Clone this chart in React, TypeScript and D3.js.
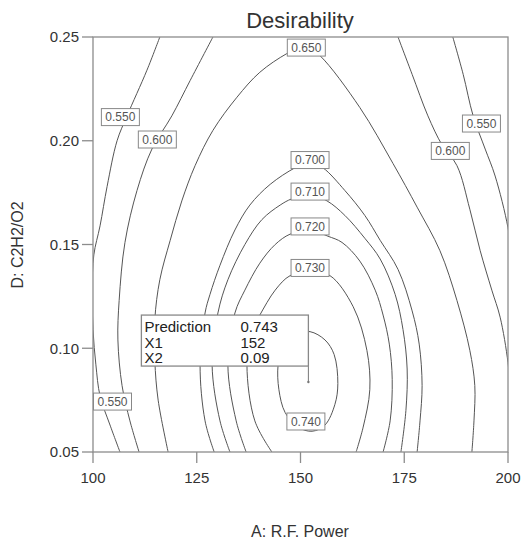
import * as d3 from "d3";

// contour paths, [R.F. Power, C2H2/O2]
const c550Left: [number, number][] = [
  [116.1, 0.25], [113.0, 0.234], [108.2, 0.212], [105.8, 0.2], [103.4, 0.178],
  [101.7, 0.159], [100.2, 0.145], [99.8, 0.128], [100.0, 0.109], [100.7, 0.092],
  [101.7, 0.077], [104.1, 0.063], [106.5, 0.05],
];
const c550Right: [number, number][] = [
  [186.7, 0.25], [189.2, 0.232], [191.6, 0.212], [194.5, 0.196], [196.9, 0.183],
  [200.0, 0.158], [201.0, 0.142],
];
const c600Left: [number, number][] = [
  [128.9, 0.25], [123.4, 0.229], [119.0, 0.212], [114.2, 0.196], [110.6, 0.176],
  [107.7, 0.151], [106.3, 0.123], [106.0, 0.104], [107.0, 0.082], [108.9, 0.065],
  [111.1, 0.05],
];
const c600Right: [number, number][] = [
  [173.5, 0.25], [176.9, 0.232], [180.7, 0.212], [184.1, 0.198], [187.7, 0.188],
  [190.8, 0.167], [193.3, 0.147], [196.1, 0.128], [198.1, 0.115], [200.0, 0.093],
  [200.7, 0.075],
];
const c650: [number, number][] = [
  [118.1, 0.05], [115.7, 0.075], [114.9, 0.094], [114.9, 0.114], [116.1, 0.133],
  [118.6, 0.152], [121.4, 0.171], [124.6, 0.188], [128.9, 0.205], [134.7, 0.221],
  [140.2, 0.233], [146.7, 0.242], [151.1, 0.246], [154.7, 0.241], [164.3, 0.216],
  [172.3, 0.189], [178.1, 0.168], [183.6, 0.147], [187.7, 0.123], [190.8, 0.099],
  [192.0, 0.082], [191.8, 0.065], [191.3, 0.05],
];
const c700: [number, number][] = [
  [129.2, 0.05], [127.0, 0.065], [125.8, 0.092], [127.0, 0.117], [128.2, 0.126],
  [130.6, 0.14], [134.2, 0.157], [137.8, 0.169], [142.7, 0.179], [148.7, 0.187],
  [152.3, 0.19], [155.4, 0.187], [160.7, 0.176], [165.5, 0.164], [169.2, 0.152],
  [173.5, 0.138], [176.9, 0.118], [178.6, 0.102], [179.3, 0.082], [178.8, 0.065],
  [178.1, 0.05],
];
const c710: [number, number][] = [
  [133.0, 0.05], [130.6, 0.065], [128.7, 0.092], [130.1, 0.117], [132.5, 0.133],
  [136.6, 0.15], [140.7, 0.162], [145.1, 0.169], [147.9, 0.172], [152.3, 0.174],
  [156.4, 0.171], [160.7, 0.164], [165.5, 0.153], [169.2, 0.143], [172.8, 0.126],
  [174.7, 0.109], [175.7, 0.09], [175.4, 0.07], [174.2, 0.05],
];
const c720: [number, number][] = [
  [136.9, 0.05], [134.5, 0.065], [132.5, 0.092], [134.2, 0.117], [136.6, 0.128],
  [140.2, 0.141], [143.9, 0.15], [147.5, 0.155], [152.3, 0.157], [156.6, 0.154],
  [160.0, 0.151], [164.3, 0.142], [168.0, 0.128], [169.9, 0.116], [171.4, 0.102],
  [172.1, 0.085], [171.6, 0.065], [169.9, 0.05],
];
const c730: [number, number][] = [
  [143.1, 0.05], [139.0, 0.065], [137.1, 0.092], [138.3, 0.109], [140.2, 0.116],
  [143.9, 0.128], [147.5, 0.135], [152.3, 0.137], [157.1, 0.135], [162.7, 0.12],
  [166.0, 0.099], [166.7, 0.08], [165.1, 0.062], [163.4, 0.05],
];
const c740: [number, number][] = [
  [152.3, 0.108], [155.9, 0.104], [158.1, 0.097], [159.0, 0.083], [158.3, 0.073],
  [155.9, 0.063], [152.8, 0.06], [149.4, 0.062], [146.3, 0.069], [144.8, 0.08],
  [144.6, 0.092], [145.8, 0.102], [148.7, 0.107],
];

const openContours = [c550Left, c550Right, c600Left, c600Right, c650, c700, c710, c720, c730];

const contourLabels = [
  { text: "0.650", x: 151.4, y: 0.2449 },
  { text: "0.550", x: 106.6, y: 0.2114 },
  { text: "0.600", x: 115.5, y: 0.2006 },
  { text: "0.700", x: 152.3, y: 0.1907 },
  { text: "0.710", x: 152.3, y: 0.1755 },
  { text: "0.720", x: 152.3, y: 0.1587 },
  { text: "0.730", x: 152.3, y: 0.1387 },
  { text: "0.740", x: 151.3, y: 0.0647 },
  { text: "0.550", x: 193.6, y: 0.2083 },
  { text: "0.600", x: 186.1, y: 0.1951 },
  { text: "0.550", x: 104.7, y: 0.0743 },
];

const xTicks = [100, 125, 150, 175, 200];
const yTicks = [0.05, 0.1, 0.15, 0.2, 0.25];

const predictionPoint = { x: 151.9, y: 0.0837 };
const predictionRows = [
  ["Prediction", "0.743"],
  ["X1", "152"],
  ["X2", "0.09"],
];

const W = 524;
const H = 541;
const FONT = "'Liberation Sans', Arial, sans-serif";

export default function App() {
  const x = d3.scaleLinear().domain([100, 200]).range([93, 508]);
  const y = d3.scaleLinear().domain([0.05, 0.25]).range([452, 37]);

  const line = d3
    .line<[number, number]>()
    .x((d) => x(d[0]))
    .y((d) => y(d[1]))
    .curve(d3.curveCatmullRom.alpha(0.5));
  const closed = d3
    .line<[number, number]>()
    .x((d) => x(d[0]))
    .y((d) => y(d[1]))
    .curve(d3.curveCatmullRomClosed.alpha(0.5));

  const px = x(predictionPoint.x);
  const py = y(predictionPoint.y);
  const boxW = 167;
  const boxH = 51;
  const boxX = px - boxW;
  const boxY = py - 16 - boxH;

  return (
    <svg
      width={W}
      height={H}
      style={{ position: "absolute", left: 0, top: 0, background: "#fff" }}
      fontFamily={FONT}
    >
      <defs>
        <clipPath id="plot">
          <rect x={93} y={37} width={415} height={415} />
        </clipPath>
      </defs>

      <text x={300} y={28} textAnchor="middle" fontSize={22} fill="#333">
        Desirability
      </text>

      <g clipPath="url(#plot)" fill="none" stroke="#555" strokeWidth={1}>
        {openContours.map((c, i) => (
          <path key={i} d={line(c) ?? ""} />
        ))}
        <path d={closed(c740) ?? ""} />
      </g>

      {/* frame */}
      <rect x={93} y={37} width={415} height={415} fill="none" stroke="#8c8c8c" strokeWidth={1.3} />

      {yTicks.map((t) => (
        <g key={t}>
          <line x1={82} x2={93} y1={y(t)} y2={y(t)} stroke="#8c8c8c" strokeWidth={1.3} />
          <text x={79} y={y(t)} dy="0.36em" textAnchor="end" fontSize={15} fill="#333">
            {d3.format(".2f")(t)}
          </text>
        </g>
      ))}
      {xTicks.map((t) => (
        <g key={t}>
          <line x1={x(t)} x2={x(t)} y1={452} y2={463} stroke="#8c8c8c" strokeWidth={1.3} />
          <text x={x(t)} y={483} textAnchor="middle" fontSize={15} fill="#333">
            {t}
          </text>
        </g>
      ))}

      <text x={300} y={537} textAnchor="middle" fontSize={16} fill="#333">
        A: R.F. Power
      </text>
      <text
        transform={`translate(23,245) rotate(-90)`}
        textAnchor="middle"
        fontSize={16}
        fill="#333"
      >
        D: C2H2/O2
      </text>

      {contourLabels.map((l, i) => {
        const cx = x(l.x);
        const cy = y(l.y);
        return (
          <g key={i}>
            <rect x={cx - 19} y={cy - 8.5} width={38} height={17} fill="#fff" stroke="#888" strokeWidth={1} />
            <text x={cx} y={cy} dy="0.36em" textAnchor="middle" fontSize={12} fill="#555">
              {l.text}
            </text>
          </g>
        );
      })}

      {/* prediction flag */}
      <line x1={px} x2={px} y1={boxY + boxH} y2={py} stroke="#777" strokeWidth={1} />
      <circle cx={px} cy={py} r={1.2} fill="#777" />
      <rect x={boxX} y={boxY} width={boxW} height={boxH} fill="#fff" stroke="#888" strokeWidth={1.3} />
      {predictionRows.map((r, i) => (
        <g key={i} fontSize={15} fill="#222">
          <text x={boxX + 3} y={boxY + 17 + i * 15.5}>{r[0]}</text>
          <text x={boxX + 99} y={boxY + 17 + i * 15.5}>{r[1]}</text>
        </g>
      ))}
    </svg>
  );
}
